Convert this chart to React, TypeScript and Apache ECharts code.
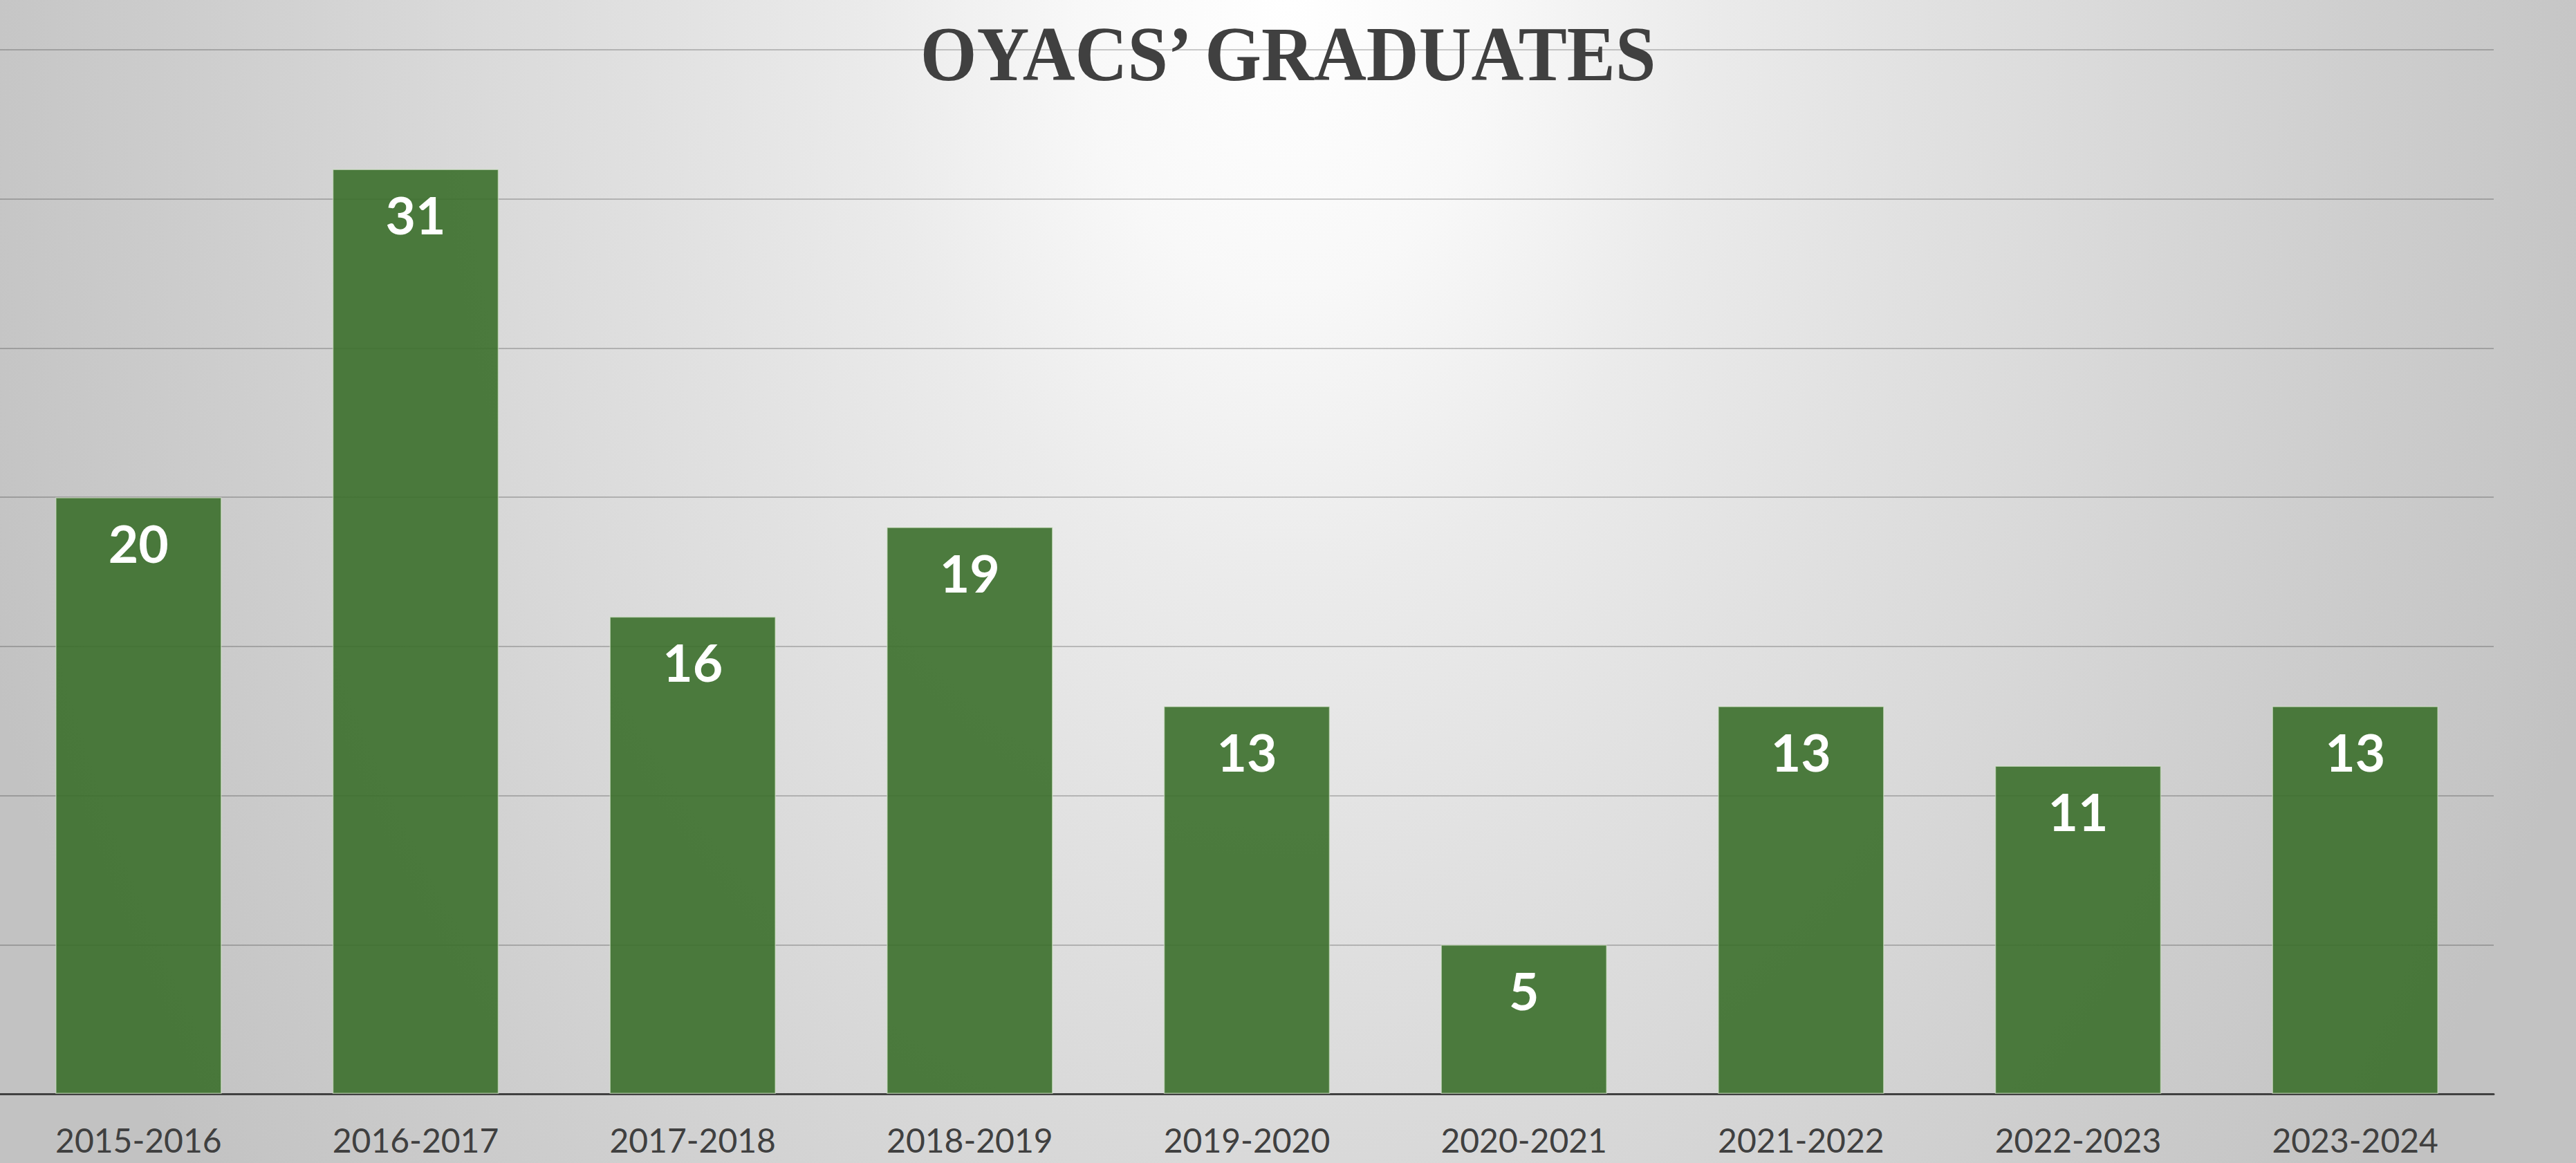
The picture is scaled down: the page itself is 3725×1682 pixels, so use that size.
import React, { useEffect, useRef } from "react";
import * as echarts from "echarts";

const categories = [
  "2015-2016",
  "2016-2017",
  "2017-2018",
  "2018-2019",
  "2019-2020",
  "2020-2021",
  "2021-2022",
  "2022-2023",
  "2023-2024",
];
const graduates = [20, 31, 16, 19, 13, 5, 13, 11, 13];
const titleText = "OYACS\u2019 GRADUATES";
const yMin = 0;
const yMax = 35;
const yInterval = 5;

const W = 3725;
const H = 1682;

export default function App() {
  const ref = useRef<HTMLDivElement>(null);
  useEffect(() => {
    if (!ref.current) return;
    const chart = echarts.init(ref.current, null, { renderer: "svg", width: W, height: H });
    chart.setOption({
      animation: false,
      backgroundColor: "#c4c4c4",
      graphic: [
        {
          type: "rect",
          z: -100,
          silent: true,
          shape: { x: 0, y: 0, width: W, height: W * 1.4 },
          style: {
            fill: {
              type: "radial",
              x: 0.5,
              y: 0,
              r: 0.537,
              colorStops: [
                { offset: 0, color: "#ffffff" },
                { offset: 0.15, color: "#f8f8f8" },
                { offset: 0.3, color: "#ebebeb" },
                { offset: 0.46, color: "#e1e1e1" },
                { offset: 0.6, color: "#d9d9d9" },
                { offset: 0.8, color: "#cdcdcd" },
                { offset: 0.95, color: "#c5c5c5" },
                { offset: 1, color: "#c2c2c2" },
              ],
            },
          },
        },
        {
          type: "text",
          x: W / 2,
          y: 78,
          scaleX: 0.93,
          z: 10,
          style: {
            text: titleText,
            fill: "#404040",
            fontFamily: "Liberation Serif",
            fontWeight: "bold",
            fontSize: 113,
            textAlign: "center",
            verticalAlign: "middle",
            textVerticalAlign: "middle",
          },
        },
      ],
      grid: { left: 0, right: 119, top: 72, bottom: 100, containLabel: false },
      xAxis: {
        type: "category",
        data: categories,
        axisLine: { show: true, lineStyle: { color: "#404040", width: 3 } },
        axisTick: { show: false },
        splitLine: { show: false },
        axisLabel: {
          color: "#404040",
          fontFamily: "Lato",
          fontSize: 48,
          margin: 42,
        },
      },
      yAxis: {
        type: "value",
        min: yMin,
        max: yMax,
        interval: yInterval,
        axisLabel: { show: false },
        axisLine: { show: false },
        axisTick: { show: false },
        splitLine: { show: true, lineStyle: { color: "rgba(0,0,0,0.2)", width: 2 } },
      },
      series: [
        {
          type: "bar",
          data: graduates,
          barCategoryGap: "40%",
          itemStyle: {
            color: "rgba(59,111,43,0.9)",
            borderColor: "rgba(215,232,205,0.6)",
            borderWidth: 1.5,
          },
          label: {
            show: true,
            position: "insideTop",
            distance: 28,
            color: "#ffffff",
            fontFamily: "Lato",
            fontWeight: "bold",
            fontSize: 75,
          },
        },
      ],
    });
    return () => chart.dispose();
  }, []);
  return (
    <div
      ref={ref}
      style={{ position: "fixed", left: 0, top: 0, width: W, height: H }}
    />
  );
}
